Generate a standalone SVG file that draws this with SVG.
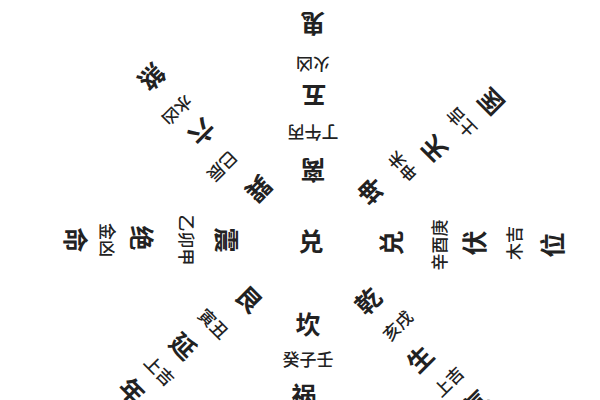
<svg xmlns="http://www.w3.org/2000/svg" width="600" height="400" viewBox="0 0 600 400">
<style>
text{font-family:"Noto Sans CJK SC","Noto Sans CJK TC",sans-serif;fill:#222222;text-anchor:middle;dominant-baseline:central}
.b{font-size:25px;font-weight:700}
.s{font-size:17px;font-weight:500}
</style>
<rect width="600" height="400" fill="#ffffff"/>
<g id="center"><text class="b" x="311" y="240">兑</text></g>
<g id="spoke-li">
<text class="b" transform="translate(313,172) rotate(180)">离</text>
<text class="s" transform="translate(313,133) rotate(180)">丁午丙</text>
<text class="b" transform="translate(314,97) rotate(180)">五</text>
<text class="s" transform="translate(313,65) rotate(180)">火凶</text>
<text class="b" transform="translate(313,25) rotate(180)">鬼</text>
</g>
<g id="spoke-kun">
<text class="b" transform="translate(370,192) rotate(-135)">坤</text>
<text class="s" transform="translate(402,167) rotate(-135)">申未</text>
<text class="b" transform="translate(433,150) rotate(-135)">天</text>
<text class="s" transform="translate(461,123) rotate(-135)">土吉</text>
<text class="b" transform="translate(490,103) rotate(-135)">医</text>
</g>
<g id="spoke-dui">
<text class="b" transform="translate(390,243) rotate(-90)">兑</text>
<text class="s" transform="translate(438,245) rotate(-90)">辛酉庚</text>
<text class="b" transform="translate(473,243) rotate(-90)">伏</text>
<text class="s" transform="translate(513,243) rotate(-90)">木吉</text>
<text class="b" transform="translate(551,245) rotate(-90)">位</text>
</g>
<g id="spoke-qian">
<text class="b" transform="translate(367,300) rotate(-45)">乾</text>
<text class="s" transform="translate(397,325) rotate(-45)">亥戌</text>
<text class="b" transform="translate(419,358) rotate(-45)">生</text>
<text class="s" transform="translate(448,381) rotate(-45)">上吉</text>
<text class="b" transform="translate(475,402) rotate(-45)">气</text>
</g>
<g id="spoke-kan">
<text class="b" transform="translate(308,323)">坎</text>
<text class="s" transform="translate(308,358)">癸子壬</text>
<text class="b" transform="translate(304,394)">祸</text>
</g>
<g id="spoke-gen">
<text class="b" transform="translate(250,298) rotate(45)">艮</text>
<text class="s" transform="translate(214,323) rotate(45)">寅丑</text>
<text class="b" transform="translate(184,345) rotate(45)">延</text>
<text class="s" transform="translate(160,370) rotate(45)">上吉</text>
<text class="b" transform="translate(133,390) rotate(45)">年</text>
</g>
<g id="spoke-zhen">
<text class="b" transform="translate(228,240) rotate(90)">震</text>
<text class="s" transform="translate(187,240) rotate(90)">乙卯甲</text>
<text class="b" transform="translate(143,238) rotate(90)">绝</text>
<text class="s" transform="translate(108,240) rotate(90)">金凶</text>
<text class="b" transform="translate(77,240) rotate(90)">命</text>
</g>
<g id="spoke-xun">
<text class="b" transform="translate(260,190) rotate(135)">巽</text>
<text class="s" transform="translate(223,167) rotate(135)">巳辰</text>
<text class="b" transform="translate(203,133) rotate(135)">六</text>
<text class="s" transform="translate(178,111) rotate(135)">水凶</text>
<text class="b" transform="translate(153,78) rotate(135)">煞</text>
</g>
</svg>
